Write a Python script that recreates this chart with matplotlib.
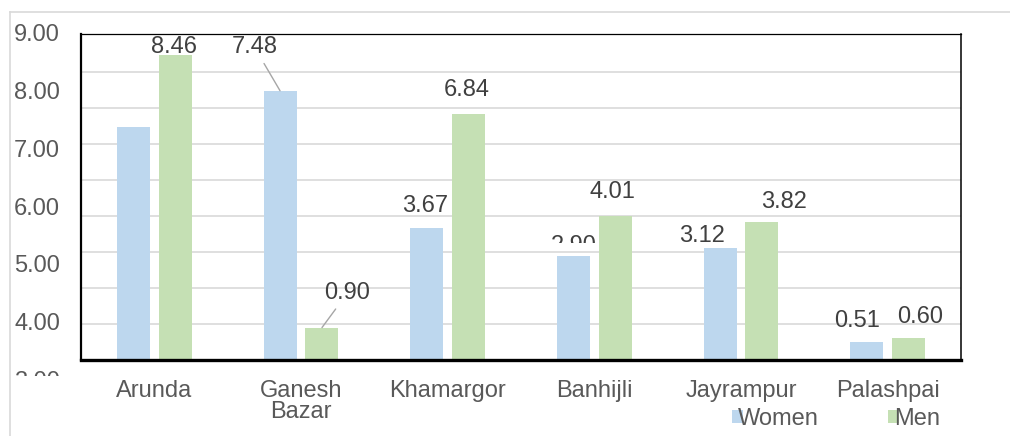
import numpy as np
import matplotlib
matplotlib.use("Agg")
import matplotlib.pyplot as plt
from matplotlib.lines import Line2D
from matplotlib.transforms import Bbox, TransformedBbox

plt.rcParams['font.family'] = ['Liberation Sans', 'DejaVu Sans']

# ---------------- data ----------------
categories = ["Arunda", "Ganesh\nBazar", "Khamargor", "Banhijli", "Jayrampur", "Palashpai"]
women = [6.46, 7.48, 3.67, 2.90, 3.12, 0.51]
men = [8.46, 0.90, 6.84, 4.01, 3.82, 0.60]
women_show_label = [False, True, True, True, True, True]
men_show_label = [True, True, True, True, True, True]
axis_tick_values = [3, 4, 5, 6, 7, 8, 9]
series_names = ["Women", "Men"]

# ---------------- layout / style ----------------
W, H = 1010, 436
C_WOMEN = "#BDD7EE"
C_MEN = "#C5E0B4"
C_TXT = "#595959"
C_LBL = "#404040"
FS = 17
# label offsets (dx, dy) in pixels: dx from bar centre, dy = baseline above bar top
women_off = [(0, 0), (-25.5, 37.4), (-1.5, 15.9), (0, 4.1), (-18, 6.0), (-9.5, 14.9)]
men_off = [(-1, 2.7), (25.5, 28.6), (-1.5, 17.8), (-2.5, 17.3), (22.5, 14.2), (11.5, 15.1)]
women_leader = [False, True, False, False, False, False]
men_leader = [False, True, False, False, False, False]

fig = plt.figure(figsize=(W / 100, H / 100), dpi=100)

px_per_unit = 36.0
ax_left, ax_right, ax_top, ax_bot = 81, 961, 34, 360
ax = fig.add_axes([ax_left / W, 1 - ax_bot / H, (ax_right - ax_left) / W, (ax_bot - ax_top) / H])
ax.set_ylim(0, (ax_bot - ax_top) / px_per_unit)
ax.set_xlim(-0.5, len(categories) - 0.5)

x = np.arange(len(categories))
bw, off = 0.225, 0.143
bars_w = ax.bar(x - off, women, bw, color=C_WOMEN, label=series_names[0], zorder=2)
bars_m = ax.bar(x + off, men, bw, color=C_MEN, label=series_names[1], zorder=2)

ax.set_yticks(np.arange(1, 9))
ax.yaxis.grid(True, color="#d9d9d9", lw=1.2)
ax.set_axisbelow(True)
ax.tick_params(axis="y", length=0, labelleft=False)
ax.set_xticks(x, categories)
ax.tick_params(axis="x", length=0, pad=14.5, labelsize=FS, labelcolor=C_TXT)
for t in ax.get_xticklabels():
    t.set_linespacing(0.95)

for s, lw in [("left", 1.6), ("bottom", 2.4), ("top", 0.9), ("right", 1.1)]:
    ax.spines[s].set_color("black")
    ax.spines[s].set_linewidth(lw)

# data labels
def add_labels(vals, xs, offs, show, leader):
    out = []
    for v, xx, (dx, dy), sh, ld in zip(vals, xs, offs, show, leader):
        if not sh:
            out.append(None)
            continue
        kw = {}
        if ld:
            kw["arrowprops"] = dict(arrowstyle="-", color="#a6a6a6", lw=1.0, shrinkA=2, shrinkB=0)
        a = ax.annotate(f"{v:.2f}", xy=(xx, v), xytext=(dx, dy), textcoords="offset pixels",
                        ha="center", va="baseline", fontsize=FS, color=C_LBL, zorder=4, **kw)
        out.append(a)
    return out

lw_ = add_labels(women, x - off, women_off, women_show_label, women_leader)
lm_ = add_labels(men, x + off, men_off, men_show_label, men_leader)

# the 2.90 label is partially hidden in the reference
clip = TransformedBbox(Bbox([[0, (H - 243) / H], [1, 1]]), fig.transFigure)
lw_[3].set_clip_box(clip)
lw_[3].set_clip_on(True)

# value-axis labels (a separate, mis-registered scale as in the reference)
lab_top, lab_bot = 20, 400
slope = 57.73
yc, vc = 177.2, 6.5
lab = fig.add_axes([ax_left / W, 1 - lab_bot / H, (ax_right - ax_left) / W, (lab_bot - lab_top) / H])
lab.set_ylim(vc - (lab_bot - yc) / slope, vc + (yc - lab_top) / slope)
lab.patch.set_visible(False)
for s in lab.spines.values():
    s.set_visible(False)
lab.set_xticks([])
lab.set_yticks(axis_tick_values, [f"{v:.2f}" for v in axis_tick_values])
lab.tick_params(axis="y", length=0, pad=15, labelsize=FS, labelcolor=C_TXT)
clip2 = TransformedBbox(Bbox([[0, (H - 376) / H], [1, 1]]), fig.transFigure)
for t in lab.get_yticklabels():
    t.set_clip_box(clip2)
    t.set_clip_on(True)

# legend
fig.legend(handles=[bars_w, bars_m], labels=series_names, ncol=2, frameon=False,
           loc="center left", bbox_to_anchor=(732 / W, 1 - 419 / H), borderaxespad=0, borderpad=0,
           handlelength=0.45, handleheight=0.45, handletextpad=-0.2, columnspacing=2.95,
           fontsize=FS, labelcolor=C_TXT)

# outer light frame
fig.add_artist(Line2D([10 / W, 1.0], [1 - 12 / H, 1 - 12 / H], transform=fig.transFigure, color="#d9d9d9", lw=1.2))
fig.add_artist(Line2D([10 / W, 10 / W], [0, 1 - 12 / H], transform=fig.transFigure, color="#d9d9d9", lw=1.2))

fig.savefig("out.png", dpi=100)
